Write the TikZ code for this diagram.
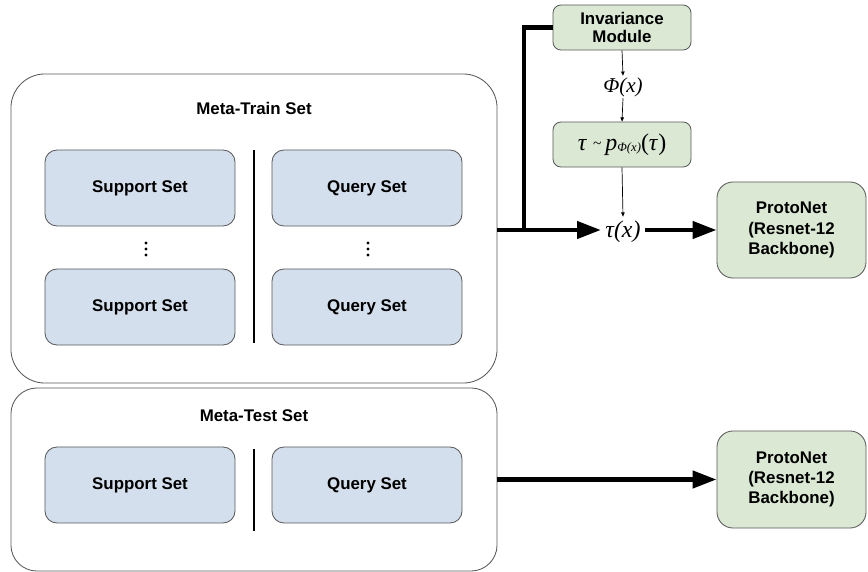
\documentclass[tikz,border=0pt]{standalone}
\usepackage{fontspec}
\setmainfont{Liberation Sans}
\newfontfamily\serifit{Liberation Serif}
\usepackage{tikz}
\usetikzlibrary{arrows.meta}

\definecolor{setblue}{HTML}{D4DFEE}
\definecolor{netgreen}{HTML}{DAE8D4}
\definecolor{rim}{HTML}{595959}

\begin{document}
\begin{tikzpicture}[x=0.025cm, y=-0.025cm,
    frame/.style={draw=rim, line width=0.6pt, rounded corners=0.85cm, inner sep=0pt},
    setbox/.style={draw=rim, line width=0.6pt, fill=setblue, rounded corners=0.3cm,
        minimum width=4.75cm, minimum height=1.9cm, font=\bfseries\fontsize{12}{14.5}\selectfont},
    netbox/.style={draw=rim, line width=0.6pt, fill=netgreen, rounded corners=0.25cm,
        align=center, font=\bfseries\fontsize{12}{14.5}\selectfont},
    title/.style={font=\bfseries\fontsize{12}{14.5}\selectfont},
    maths/.style={font=\serifit\itshape\fontsize{15}{17}\selectfont, inner sep=1pt},
    divider/.style={line width=2pt},
    thickline/.style={line width=3.2pt},
    bigarrow/.style={line width=3.2pt, -{Triangle[length=17pt,width=12pt]}},
    thinarrow/.style={line width=0.5pt, -{Triangle[length=3pt,width=2.5pt]}}]
    \useasboundingbox (0,0) rectangle (868,572);

    % meta-train set
    \node[frame, minimum width=12.15cm, minimum height=7.725cm] (train) at (254,228.5) {};
    \node[title] (traintitle) at (254,108) {Meta-Train Set};
    \node[setbox] (sup1) at (140,188) {Support Set};
    \node[setbox] (qry1) at (367,188) {Query Set};
    \node[setbox] (sup2) at (140,307) {Support Set};
    \node[setbox] (qry2) at (367,307) {Query Set};
    \foreach \x in {146,368}
        \foreach \y in {243,249,255}
            \fill (\x,\y) circle (1.1pt);
    \draw[divider] (254,150) -- (254,343);

    % meta-test set
    \node[frame, rounded corners=0.65cm, minimum width=12.15cm, minimum height=4.575cm] (test) at (254,479.5) {};
    \node[title] (testtitle) at (254,416) {Meta-Test Set};
    \node[setbox] (sup3) at (140,485) {Support Set};
    \node[setbox] (qry3) at (367,485) {Query Set};
    \draw[divider] (254,449) -- (254,531);

    % invariance branch
    \node[netbox, rounded corners=0.2cm, minimum width=3.45cm, minimum height=1.125cm] (inv) at (622,27.5)
        {Invariance\\[-2pt]Module};
    \node[maths] (phi) at (623,87) {Φ(x)};
    \node[netbox, rounded corners=0.2cm, minimum width=3.45cm, minimum height=1.125cm,
        font=\serifit\fontsize{17}{19}\selectfont] (sample) at (622,144.5)
        {\textit{τ} \raisebox{0.2ex}{\fontsize{11}{12}\selectfont\textasciitilde}\,\textit{p}\raisebox{-0.15ex}{\fontsize{9}{10}\selectfont\textit{Φ(x)}}(\textit{τ})};
    \node[maths, font=\serifit\itshape\fontsize{17}{19}\selectfont, inner sep=3pt] (tx) at (623,232) {τ(x)};

    % protonets
    \node[netbox, rounded corners=0.4cm, minimum width=3.725cm, minimum height=2.4cm] (net1) at (791.5,230)
        {ProtoNet\\(Resnet-12\\Backbone)};
    \node[netbox, rounded corners=0.4cm, minimum width=3.725cm, minimum height=2.425cm] (net2) at (791.5,479.5)
        {ProtoNet\\(Resnet-12\\Backbone)};

    % connectors
    \coordinate (split) at (524,230);
    \draw[bigarrow] (train.east |- split) -- (tx.west |- split);
    \draw[thickline] (split) |- (inv.west);
    \draw[thinarrow] (inv.south) -- (phi.north);
    \draw[thinarrow] (phi.south) -- (sample.north);
    \draw[thinarrow] (sample.south) -- (tx.north);
    \draw[bigarrow] (tx.east |- split) -- (net1.west |- split);
    \draw[bigarrow] (test.east) -- (net2.west);
\end{tikzpicture}
\end{document}
